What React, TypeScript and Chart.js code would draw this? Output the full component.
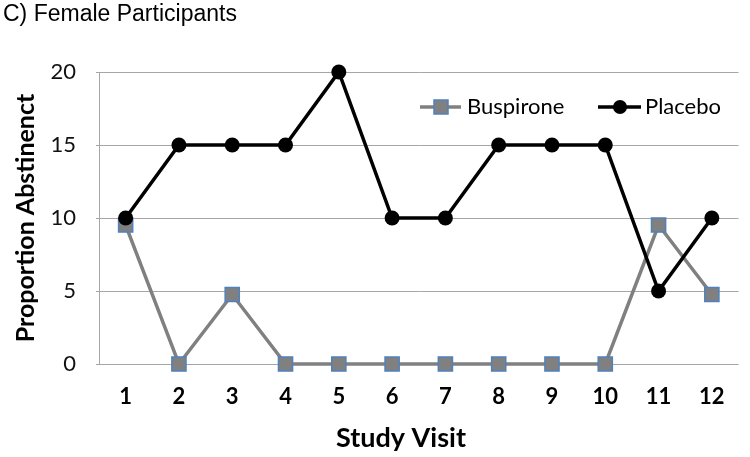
import React, { useEffect, useRef } from "react";
import { Chart, registerables } from "chart.js";

Chart.register(...registerables);

const visits = ["1", "2", "3", "4", "5", "6", "7", "8", "9", "10", "11", "12"];
const buspirone = [9.52, 0, 4.76, 0, 0, 0, 0, 0, 0, 0, 9.52, 4.76];
const placebo = [10, 15, 15, 15, 20, 10, 10, 15, 15, 15, 5, 10];
const yTicks = [0, 5, 10, 15, 20];
const chartTitle = "C) Female Participants";
const yTitle = "Proportion Abstinenct";
const xTitle = "Study Visit";
const seriesNames = ["Buspirone", "Placebo"];

const FONT = "Lato, 'Noto Sans', sans-serif";

const overlay = {
  id: "overlay",
  afterDraw(chart: any) {
    const { ctx, chartArea } = chart;
    ctx.save();
    // title
    ctx.fillStyle = "#000";
    ctx.font = "23px 'Liberation Sans', Arial, sans-serif";
    ctx.textAlign = "left";
    ctx.textBaseline = "alphabetic";
    ctx.fillText(chartTitle, 3, 21);

    // x axis title
    ctx.font = "bold 27px " + FONT;
    ctx.textAlign = "center";
    ctx.textBaseline = "middle";
    ctx.fillText(xTitle, 401, 438);

    // legend
    const ly = chartArea.top + 35;
    ctx.textAlign = "left";
    ctx.font = "22px " + FONT;
    // Buspirone
    ctx.strokeStyle = "#808080";
    ctx.lineWidth = 3.5;
    ctx.beginPath();
    ctx.moveTo(420, ly);
    ctx.lineTo(461, ly);
    ctx.stroke();
    ctx.fillStyle = "#808080";
    ctx.fillRect(434, ly - 7, 14, 14);
    ctx.strokeStyle = "#4f81bd";
    ctx.lineWidth = 1.5;
    ctx.strokeRect(434, ly - 7, 14, 14);
    ctx.fillStyle = "#000";
    ctx.fillText(seriesNames[0], 467, ly);
    // Placebo
    ctx.strokeStyle = "#000";
    ctx.lineWidth = 3.5;
    ctx.beginPath();
    ctx.moveTo(598, ly);
    ctx.lineTo(641, ly);
    ctx.stroke();
    ctx.beginPath();
    ctx.arc(620, ly, 7, 0, Math.PI * 2);
    ctx.fill();
    ctx.fillText(seriesNames[1], 645, ly);
    ctx.restore();
  },
};

export default function App() {
  const ref = useRef<HTMLCanvasElement>(null);
  useEffect(() => {
    document.body.style.margin = "0";
    const chart = new Chart(ref.current!, {
      type: "line",
      data: {
        labels: visits,
        datasets: [
          {
            label: seriesNames[0],
            data: buspirone,
            borderColor: "#808080",
            borderWidth: 3.5,
            backgroundColor: "#808080",
            pointStyle: "rect",
            pointRadius: 10,
            pointBorderColor: "#4f81bd",
            pointBorderWidth: 1.5,
            pointBackgroundColor: "#808080",
            tension: 0,
            order: 2,
            clip: false,
          },
          {
            label: seriesNames[1],
            data: placebo,
            borderColor: "#000",
            borderWidth: 3.5,
            backgroundColor: "#000",
            pointStyle: "circle",
            pointRadius: 7.5,
            pointBorderWidth: 0,
            pointBackgroundColor: "#000",
            tension: 0,
            order: 1,
            clip: false,
          },
        ],
      },
      options: {
        responsive: false,
        animation: false,
        layout: { padding: { top: 72, right: 4, left: 0, bottom: 0 } },
        plugins: { legend: { display: false }, title: { display: false }, tooltip: { enabled: false } },
        scales: {
          x: {
            offset: true,
            grid: { display: false, drawTicks: false },
            border: { display: false },
            ticks: { color: "#000", font: { family: FONT, size: 22, weight: "bold" }, padding: 20 },
            afterFit(scale: any) {
              scale.height = 93;
            },
          },
          y: {
            min: 0,
            max: 20,
            afterBuildTicks(scale: any) {
              scale.ticks = yTicks.map((v) => ({ value: v }));
            },
            grid: { color: "#a6a6a6", lineWidth: 1, tickLength: 3 },
            border: { display: true, color: "#a6a6a6", width: 1 },
            ticks: { color: "#111", font: { family: FONT, size: 22 }, padding: 20 },
            title: {
              display: true,
              text: yTitle,
              color: "#000",
              font: { family: FONT, size: 25, weight: "bold" },
              padding: { top: 11, bottom: 0 },
            },
            afterFit(scale: any) {
              scale.width = 99;
            },
          },
        },
      },
      plugins: [overlay],
    });
    return () => chart.destroy();
  }, []);
  return (
    <div style={{ width: 750, height: 457 }}>
      <canvas ref={ref} width={750} height={457} />
    </div>
  );
}
